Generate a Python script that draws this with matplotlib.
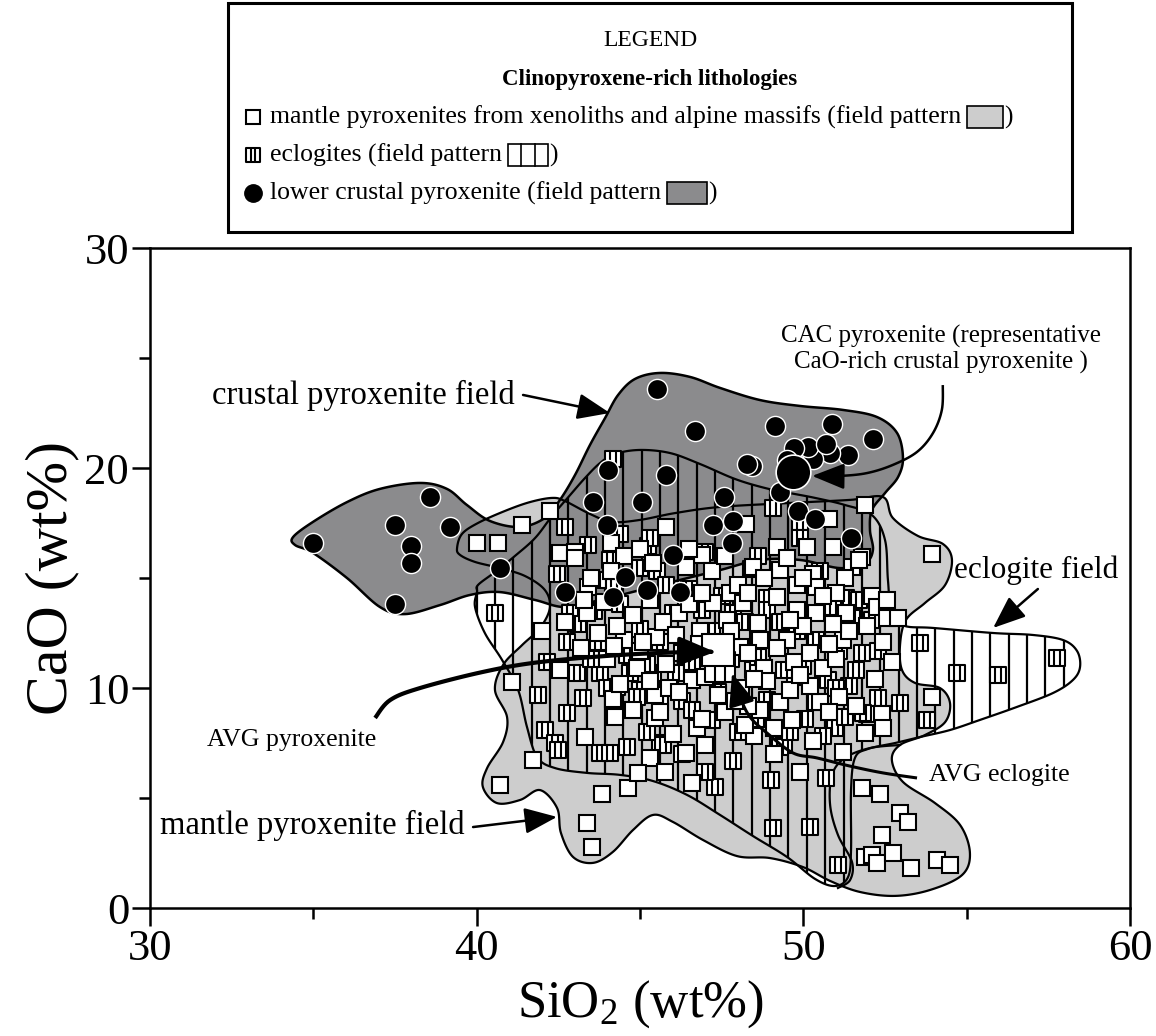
import numpy as np
import matplotlib
matplotlib.use('Agg')
import matplotlib.pyplot as plt
from matplotlib.path import Path
from matplotlib.patches import Polygon, Rectangle

plt.rcParams['font.family'] = ['Liberation Serif', 'DejaVu Serif']
plt.rcParams['mathtext.fontset'] = 'custom'
plt.rcParams['mathtext.rm'] = 'Liberation Serif'
plt.rcParams['mathtext.it'] = 'Liberation Serif'

# ---- data: SiO2, CaO (wt%) ----
mantle_pts = [
    (40.0, 16.6), (40.65, 16.6), (41.39, 17.4), (42.24, 18.05), (42.55, 16.15), (43.0, 16.2),
    (44.1, 16.6), (45.8, 17.3), (43.4, 14.6), (43.37, 13.4),
    (41.08, 10.27), (41.73, 6.73), (40.71, 5.6), (43.32, 7.77), (43.84, 5.2), (44.63, 5.45),
    (43.37, 3.86), (43.53, 2.77), (44.23, 8.7), (45.46, 8.65), (45.3, 6.8), (44.94, 6.14),
    (44.17, 9.5), (45.46, 9.7), (42.55, 10.8), (44.5, 12.2), (45.0, 11.7), (45.5, 12.3),
    (49.9, 6.2), (51.8, 5.45), (51.9, 2.3), (46.6, 5.7), (45.76, 6.2), (46.4, 7.05), (48.5, 7.8),
    (52.35, 5.2), (49.65, 8.55), (51.9, 7.95), (46.74, 8.2), (48.2, 8.3), (49.1, 8.2), (50.4, 9.35),
    (48.06, 11.86), (48.67, 12.2), (49.5, 12.2), (51.2, 12.2), (45.8, 11.1), (46.6, 10.36),
    (47.4, 9.7), (48.67, 9.0), (49.3, 9.36), (50.5, 9.36), (52.4, 8.8), (52.44, 12.1),
    (51.9, 18.3), (50.8, 17.7), (48.25, 17.45), (46.9, 16.05), (51.8, 15.95), (50.9, 16.4),
    (49.2, 16.4), (50.1, 16.4), (51.5, 15.5), (46.4, 15.5), (48.47, 15.5), (49.3, 15.36),
    (50.3, 15.2), (51.27, 15.0), (47.75, 14.3), (49.8, 14.7), (50.4, 14.6), (47.24, 13.86),
    (48.15, 13.86), (49.2, 14.14), (51.0, 14.3), (52.1, 14.2), (46.2, 13.4), (49.8, 13.55),
    (50.4, 13.4), (51.3, 13.4), (52.25, 13.7), (46.84, 12.6), (47.66, 13.1), (48.6, 12.95),
    (50.0, 12.8), (51.95, 12.8),
    (53.93, 16.1), (53.93, 9.6), (52.45, 8.2), (52.96, 4.3), (53.2, 3.9), (52.4, 3.3),
    (52.1, 2.4), (52.25, 2.05), (52.75, 2.5), (53.3, 1.8), (54.1, 2.18), (54.5, 1.95),
    (51.7, 15.8), (52.55, 14.0), (52.55, 13.2),
    (43.5, 15.0), (43.9, 13.9), (44.3, 12.8), (44.8, 13.3), (45.3, 14.0), (45.7, 13.0),
    (46.1, 12.4), (46.5, 13.8), (44.5, 16.0), (45.0, 16.3), (45.4, 15.7), (46.5, 16.3),
    (47.2, 15.3), (47.6, 16.0), (48.0, 14.7), (48.8, 15.0), (49.5, 15.9), (50.0, 15.0),
    (50.6, 14.2), (43.2, 11.8), (43.7, 12.5), (44.0, 11.3), (44.4, 10.2), (44.9, 10.9),
    (45.3, 10.3), (45.9, 10.0), (46.3, 11.6), (46.8, 12.0), (47.0, 10.5), (47.8, 12.6),
    (48.3, 11.6), (48.8, 10.9), (49.2, 11.8), (49.7, 11.2), (50.2, 11.6), (50.6, 10.9),
    (51.0, 11.3), (51.4, 12.6), (50.9, 12.9), (48.1, 10.0), (48.9, 10.3), (49.6, 9.9),
    (50.2, 10.1), (51.1, 9.6), (51.6, 9.2), (44.8, 9.0), (45.6, 8.9), (46.2, 9.8), (46.0, 7.9),
    (47.0, 7.4), (47.6, 8.9), (48.3, 9.2), (49.1, 7.0), (50.3, 7.6), (51.2, 7.1), (44.2, 11.9),
    (42.7, 13.0), (43.3, 14.0), (42.0, 12.6), (43.0, 15.9), (52.9, 13.2), (52.7, 11.2), (52.2, 10.4),
    (44.1, 15.3), (46.9, 14.3), (47.3, 11.0), (48.5, 10.4), (49.9, 10.6), (50.8, 12.0),
    (48.3, 14.3), (49.6, 13.1), (45.1, 12.1), (46.9, 8.6), (47.9, 9.4), (50.8, 8.9),
]

eclogite_pts = [
    (42.7, 17.3), (44.17, 20.4), (42.46, 15.2), (40.56, 13.4), (45.25, 16.45), (44.08, 15.8),
    (43.87, 14.9), (42.86, 13.4), (45.0, 15.45), (45.52, 15.3), (41.88, 9.68), (42.76, 8.86),
    (43.26, 9.54), (42.1, 8.1), (42.4, 7.5), (42.5, 7.2), (43.78, 7.05), (44.08, 7.05),
    (44.6, 7.3), (42.15, 11.2), (43.06, 10.7), (43.78, 10.7), (44.7, 10.7), (45.4, 10.7),
    (42.76, 12.1), (43.7, 12.1), (45.6, 7.5), (43.5, 11.3), (44.3, 10.05), (45.0, 9.9),
    (49.07, 3.64), (50.2, 3.68), (51.07, 1.95), (47.3, 5.5), (47.85, 6.7), (45.7, 7.4),
    (49.4, 7.4), (50.05, 8.6), (49.3, 7.3), (52.3, 9.55), (51.95, 8.8), (50.97, 8.2),
    (48.47, 10.8), (47.2, 8.55), (46.3, 9.4), (49.74, 10.5), (50.76, 10.36), (51.8, 11.6),
    (52.3, 11.7), (51.27, 8.7), (48.9, 9.45), (51.4, 10.1), (49.07, 18.2), (49.9, 17.55),
    (48.9, 14.1), (46.9, 13.55), (47.85, 13.4), (48.9, 13.55), (51.3, 14.1), (51.7, 14.0),
    (52.1, 13.1), (53.57, 12.05), (54.7, 10.7), (55.97, 10.6), (57.77, 11.36), (52.96, 9.3),
    (53.8, 8.55), (51.83, 8.86), (51.1, 11.7),
    (43.1, 12.9), (43.6, 13.5), (44.4, 13.8), (45.0, 12.7), (45.6, 12.1), (46.0, 13.4),
    (46.5, 14.5), (47.2, 12.6), (47.5, 14.2), (48.2, 13.0), (48.6, 12.3), (49.3, 13.0),
    (49.8, 12.6), (50.4, 12.2), (50.9, 13.7), (51.5, 13.2), (44.6, 11.5), (45.2, 11.1),
    (46.1, 10.7), (46.6, 11.2), (47.8, 11.3), (48.6, 11.4), (49.4, 10.8), (50.0, 11.0),
    (51.0, 10.0), (51.6, 10.8), (44.0, 10.0), (44.9, 9.6), (45.6, 9.3), (46.6, 9.0),
    (47.4, 9.8), (48.0, 8.0), (48.7, 8.6), (49.6, 8.0), (50.6, 7.8), (45.2, 8.0), (46.3, 7.0),
    (47.0, 6.2), (49.0, 5.8), (50.7, 5.9), (44.2, 14.6), (45.8, 14.7), (47.0, 16.2),
    (48.6, 16.0), (49.9, 16.8), (43.4, 16.5), (44.4, 17.0), (45.3, 16.8), (48.4, 15.4),
    (50.5, 15.3),
]

crustal_pts = [
    (35.0, 16.6), (37.5, 17.4), (38.57, 18.7), (39.18, 17.3), (38.0, 16.45), (38.0, 15.7),
    (37.5, 13.8), (40.71, 15.45), (45.52, 23.6), (44.02, 19.9), (43.56, 18.45), (45.06, 18.45),
    (43.99, 17.4), (45.8, 19.7), (42.7, 14.36), (44.54, 15.05), (44.18, 14.14), (45.2, 14.45),
    (46.0, 16.05), (46.68, 21.7), (49.13, 21.9), (50.88, 22.0), (52.13, 21.3), (51.37, 20.6),
    (50.82, 20.7), (50.3, 20.4), (50.15, 20.95), (49.7, 20.9), (50.7, 21.1), (48.42, 20.1),
    (48.27, 20.2), (49.5, 20.36), (49.29, 18.9), (47.57, 18.7), (49.84, 18.05), (50.36, 17.7),
    (47.24, 17.4), (47.85, 17.6), (47.82, 16.6), (51.45, 16.8), (46.22, 14.36),
]

cac_pyroxenite = (49.69, 19.8)
avg_pyroxenite = (47.39, 11.73)
avg_eclogite = (47.45, 10.95)

# ---- field outlines (control points, SiO2 / CaO) ----
crustal_field = [
    (34.38, 16.86), (34.99, 17.55), (36.03, 18.45), (37.04, 19.05), (38.27, 19.32), (39.09, 19.05),
    (39.70, 18.32), (40.41, 17.59), (41.33, 17.32), (42.09, 17.73), (42.55, 18.55), (43.01, 19.68),
    (43.47, 21.05), (43.93, 22.27), (44.33, 23.32), (44.85, 24.05), (45.61, 24.32), (46.53, 24.14),
    (47.45, 23.64), (48.67, 23.09), (49.90, 22.82), (51.21, 22.64), (52.25, 22.32), (52.87, 21.59),
    (53.05, 20.45), (52.90, 19.59), (52.50, 18.86), (52.10, 18.09), (52.04, 17.18), (52.13, 16.27),
    (51.89, 15.68), (51.12, 15.45), (49.90, 15.82), (48.67, 15.82), (47.45, 15.36), (46.22, 14.91),
    (45.0, 14.45), (43.78, 14.0), (42.70, 13.68), (41.79, 14.0), (40.71, 14.36), (39.80, 14.23),
    (38.88, 13.77), (37.81, 13.36), (37.04, 13.68), (36.03, 15.0), (34.99, 16.14), (34.44, 16.5),
]

mantle_field = [
    (39.40, 16.36), (39.55, 17.0), (40.04, 17.5), (40.87, 18.05), (41.63, 18.45), (42.31, 18.64),
    (42.70, 18.5), (43.47, 17.91), (44.14, 17.55), (45.0, 17.64), (46.07, 17.95), (47.45, 18.23),
    (49.59, 18.41), (51.43, 18.55), (52.44, 18.68), (52.74, 17.73), (53.51, 16.91), (54.27, 16.55),
    (54.55, 15.82), (54.34, 14.68), (53.72, 13.86), (53.14, 13.09), (52.96, 11.95), (53.02, 10.82),
    (53.42, 10.23), (54.18, 10.0), (54.49, 9.32), (54.34, 8.45), (53.72, 7.86), (52.96, 7.41),
    (52.71, 6.73), (53.05, 5.73), (54.03, 4.77), (54.80, 3.77), (55.10, 2.5), (54.86, 1.5),
    (53.88, 0.82), (52.81, 0.55), (51.73, 0.73), (50.82, 1.23), (49.99, 1.86), (48.98, 2.27),
    (47.97, 2.36), (46.93, 3.09), (46.01, 3.91), (45.40, 4.23), (44.79, 3.55), (44.17, 2.55),
    (43.56, 2.05), (42.95, 2.32), (42.58, 3.41), (42.46, 4.55), (41.94, 5.36), (41.33, 4.91),
    (40.62, 4.77), (40.19, 5.5), (40.32, 6.36), (40.81, 7.55), (40.93, 8.68), (40.56, 9.91),
    (40.81, 11.05), (41.39, 11.95), (41.94, 12.73), (42.24, 13.64), (42.09, 14.45), (41.48, 15.09),
    (40.71, 15.45), (39.95, 15.73), (39.49, 16.05),
]

mantle_lobe_edge = [
    (52.96, 7.41), (52.04, 7.27), (51.27, 6.82), (50.88, 6.05), (50.82, 4.68), (51.06, 3.32),
    (51.49, 2.09), (51.43, 1.27), (51.06, 0.91),
]

eclogite_field = [
    (40.04, 14.68), (40.56, 15.27), (41.17, 16.0), (41.79, 16.82), (42.31, 17.82), (42.86, 18.77),
    (43.32, 19.55), (43.78, 20.23), (44.23, 20.64), (45.0, 20.82), (45.92, 20.68), (46.84, 20.18),
    (47.91, 19.5), (48.83, 19.09), (49.59, 18.86), (50.36, 18.64), (51.27, 18.32), (52.10, 17.86),
    (52.50, 16.73), (52.59, 14.91), (52.71, 13.32), (53.11, 12.82), (53.97, 12.73), (55.81, 12.5),
    (57.03, 12.41), (57.95, 12.18), (58.38, 11.68), (58.47, 10.95), (58.25, 10.36), (57.64, 9.77),
    (56.54, 9.14), (55.41, 8.55), (54.49, 8.09), (53.57, 7.77), (52.81, 7.5), (51.98, 7.23),
    (51.58, 6.82), (51.46, 5.36), (51.46, 2.64), (51.37, 1.41), (50.97, 1.0), (50.36, 1.32),
    (49.50, 2.32), (48.46, 3.27), (47.45, 4.23), (46.44, 5.14), (45.40, 5.77), (44.39, 6.05),
    (43.38, 6.14), (42.40, 6.36), (41.85, 6.86), (41.54, 8.23), (41.27, 9.91), (40.78, 11.27),
    (40.25, 12.5), (39.95, 13.68), (40.01, 14.36),
]

# ---- annotation arrows ----
cac_arrow = [(54.27, 23.77), (54.24, 22.64), (53.97, 21.59), (53.48, 20.73), (52.74, 20.14),
             (51.95, 19.77), (51.12, 19.64), (50.27, 19.64)]
avg_pyx_arrow = [(36.89, 8.64), (37.35, 9.45), (38.27, 10.0), (40.19, 10.73), (41.94, 11.18),
                 (44.39, 11.5), (46.53, 11.64), (47.3, 11.64)]
avg_ecl_arrow = [(53.48, 5.91), (52.44, 6.14), (51.43, 6.45), (50.42, 6.82), (49.68, 7.05),
                 (48.89, 7.95), (48.37, 8.68), (48.06, 9.59), (47.82, 10.68)]

LIGHT = '#cdcdcd'
DARK = '#8b8b8d'
W, H = 1156, 1036


def smooth(pts, closed=True, n=14):
    p = np.asarray(pts, dtype=float)
    if closed:
        p = np.vstack([p[-1], p, p[0], p[1]])
    else:
        p = np.vstack([p[0], p, p[-1]])
    out = []
    for i in range(1, len(p) - 2):
        p0, p1, p2, p3 = p[i - 1], p[i], p[i + 1], p[i + 2]
        for t in np.linspace(0, 1, n, endpoint=False):
            out.append(0.5 * (2 * p1 + (-p0 + p2) * t + (2 * p0 - 5 * p1 + 4 * p2 - p3) * t * t
                              + (-p0 + 3 * p1 - 3 * p2 + p3) * t ** 3))
    if not closed:
        out.append(p[-2])
    return np.array(out)


# eclogite symbol: square with two vertical bars
ecl_marker = Path([(-1, -1), (1, -1), (1, 1), (-1, 1), (-1, -1),
                   (-1 / 3, -1), (-1 / 3, 1), (1 / 3, -1), (1 / 3, 1)],
                  [Path.MOVETO, Path.LINETO, Path.LINETO, Path.LINETO, Path.CLOSEPOLY,
                   Path.MOVETO, Path.LINETO, Path.MOVETO, Path.LINETO])

fig = plt.figure(figsize=(W / 100, H / 100), dpi=100)
ax = fig.add_axes([150 / W, 128 / H, 980 / W, 660 / H])
ax.set_xlim(30, 60)
ax.set_ylim(0, 30)

# fields
mantle_poly = smooth(mantle_field)
crust_poly = smooth(crustal_field)
ecl_poly = smooth(eclogite_field)
ax.add_patch(Polygon(mantle_poly, closed=True, fc=LIGHT, ec='none', zorder=1))
ax.add_patch(Polygon(crust_poly, closed=True, fc=DARK, ec='none', zorder=2))
ecl_clip = Polygon(ecl_poly, closed=True, fc='none', ec='none')
ax.add_patch(ecl_clip)
hatch = ax.vlines(np.arange(40.0, 58.6, 0.5615), 0, 22, colors='k', lw=1.6, zorder=3)
hatch.set_clip_path(ecl_clip)
for poly, lw in [(mantle_poly, 1.6), (crust_poly, 1.8), (ecl_poly, 1.6)]:
    ax.add_patch(Polygon(poly, closed=True, fc='none', ec='k', lw=lw, zorder=4))
lobe = smooth(mantle_lobe_edge, closed=False)
ax.plot(lobe[:, 0], lobe[:, 1], color='k', lw=1.6, zorder=4)

# samples
ep = np.array(eclogite_pts)
mp = np.array(mantle_pts)
cp = np.array(crustal_pts)
ax.plot(ep[:, 0], ep[:, 1], ls='none', marker=ecl_marker, ms=11.5, mfc='white', mec='k', mew=1.5, zorder=5)
ax.plot(mp[:, 0], mp[:, 1], ls='none', marker='s', ms=11.5, mfc='white', mec='k', mew=1.5, zorder=5)
ax.plot(cp[:, 0], cp[:, 1], ls='none', marker='o', ms=14.5, mfc='black', mec='white', mew=1.0, zorder=6)
ax.plot(*cac_pyroxenite, marker='o', ms=25, mfc='black', mec='white', mew=1.2, zorder=6)
ax.plot(*avg_eclogite, marker=ecl_marker, ms=21, mfc='white', mec='k', mew=1.5, zorder=7)
ax.plot(*avg_pyroxenite, marker='s', ms=23, mfc='white', mec='k', mew=1.5, zorder=7)


def curve_arrow(pts, lw, scale=20):
    c = smooth(pts, closed=False, n=10)
    ax.plot(c[:-3, 0], c[:-3, 1], color='k', lw=lw, zorder=8, solid_capstyle='butt')
    ax.annotate('', xy=c[-1], xytext=c[-4],
                arrowprops=dict(arrowstyle='-|>,head_length=1.0,head_width=0.4', lw=lw,
                                color='k', shrinkA=0, shrinkB=0, mutation_scale=scale), zorder=8)


curve_arrow(cac_arrow, 1.8)
curve_arrow(avg_pyx_arrow, 3.0, 22)
curve_arrow(avg_ecl_arrow, 2.2)

straight = dict(arrowstyle='-|>,head_length=1.0,head_width=0.4', lw=1.8, color='k',
                shrinkA=0, shrinkB=0, mutation_scale=20)
ax.annotate('', xy=(44.08, 22.5), xytext=(41.42, 23.32), arrowprops=straight, zorder=8)
ax.annotate('', xy=(55.81, 12.73), xytext=(57.18, 14.5), arrowprops=straight, zorder=8)
ax.annotate('', xy=(42.46, 4.14), xytext=(39.89, 3.68), arrowprops=straight, zorder=8)

ax.text(31.9, 23.3, 'crustal pyroxenite field', fontsize=23.5, ha='left', va='center')
ax.text(54.21, 25.4, 'CAC pyroxenite (representative\nCaO-rich crustal pyroxenite )',
        fontsize=18, ha='center', va='center', linespacing=1.15)
ax.text(54.62, 15.35, 'eclogite field', fontsize=22.5, ha='left', va='center')
ax.text(34.35, 7.64, 'AVG pyroxenite', fontsize=18.5, ha='center', va='center')
ax.text(55.99, 6.05, 'AVG eclogite', fontsize=18.5, ha='center', va='center')
ax.text(34.96, 3.73, 'mantle pyroxenite field', fontsize=23.5, ha='center', va='center')

# axes styling
for s in ax.spines.values():
    s.set_linewidth(1.8)
ax.set_xticks([30, 40, 50, 60])
ax.set_yticks([0, 10, 20, 30])
ax.set_xticks([35, 45, 55], minor=True)
ax.set_yticks([5, 15, 25], minor=True)
ax.tick_params(which='major', direction='out', length=13, width=1.8, labelsize=32, pad=2)
ax.tick_params(which='minor', direction='out', length=8, width=1.8)
ax.set_xlabel('SiO$_2$ (wt%)', fontsize=38, labelpad=7)
ax.set_ylabel('CaO (wt%)', fontsize=43, labelpad=4)

# legend box
fig.patches.append(Rectangle((228 / W, 1 - 232 / H), 844 / W, 229 / H, transform=fig.transFigure,
                             fc='white', ec='k', lw=2.2))


def fx(px):
    return px / W


def fy(py):
    return 1 - py / H


fig.text(fx(650), fy(40), 'LEGEND', fontsize=17, ha='center', va='center')
fig.text(fx(650), fy(79), 'Clinopyroxene-rich lithologies', fontsize=16.5, ha='center', va='center',
         fontweight='bold')
fig.lines.append(plt.Line2D([fx(253)], [fy(117)], transform=fig.transFigure, marker='s', ms=9.5,
                            mfc='white', mec='k', mew=1.5))
fig.lines.append(plt.Line2D([fx(253)], [fy(155)], transform=fig.transFigure, marker=ecl_marker, ms=9.5,
                            mfc='white', mec='k', mew=1.5))
fig.lines.append(plt.Line2D([fx(253)], [fy(193)], transform=fig.transFigure, marker='o', ms=12.5,
                            mfc='black', mec='black'))

rows = [(117, 'mantle pyroxenites from xenoliths and alpine massifs (field pattern', LIGHT, 36, 0),
        (155, 'eclogites (field pattern', 'white', 40, 2),
        (193, 'lower crustal pyroxenite (field pattern', DARK, 40, 0)]
renderer = fig.canvas.get_renderer()
for py, label, col, wpx, nbars in rows:
    t = fig.text(fx(270), fy(py), label, fontsize=18.5, ha='left', va='center')
    bb = t.get_window_extent(renderer)
    x0 = bb.x1 + 6
    fig.patches.append(Rectangle((x0 / W, fy(py + 11)), wpx / W, 22 / H, transform=fig.transFigure,
                                 fc=col, ec='k', lw=1.2))
    for k in range(1, nbars + 1):
        xb = x0 + k * wpx / (nbars + 1)
        fig.lines.append(plt.Line2D([xb / W, xb / W], [fy(py + 11), fy(py - 11)],
                                    transform=fig.transFigure, color='k', lw=1.2))
    fig.text((x0 + wpx + 1) / W, fy(py), ')', fontsize=18.5, ha='left', va='center')

fig.savefig('out.png', dpi=100)
